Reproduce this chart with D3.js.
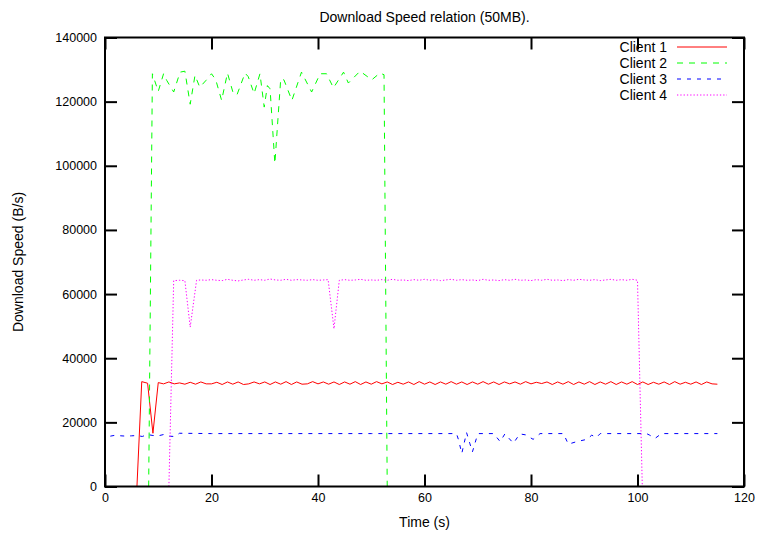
<!DOCTYPE html>
<html>
<head>
<meta charset="utf-8">
<script src="https://cdn.jsdelivr.net/npm/d3@7"></script>
<style>
  body { margin: 0; background: #fff; }
  text { font-family: "Liberation Sans", Arial, sans-serif; fill: #000; }
</style>
</head>
<body>
<svg id="chart" width="759" height="534"></svg>
<script>
// Axis ticks
const xTicks = [0, 20, 40, 60, 80, 100, 120];
const yTicks = [0, 20000, 40000, 60000, 80000, 100000, 120000, 140000];

const seriesNames = ["Client 1", "Client 2", "Client 3", "Client 4"];
const seriesColors = ["#ff0000", "#00ff00", "#0000ff", "#ff00ff"];
const seriesDash = [null, "6,6", "4,6", "1.3,2"];

// Client 1
const client1Time = [6, 6.9, 8, 9, 10,
  11, 12, 13, 14, 15, 16, 17, 18, 19, 20, 21, 22, 23, 24, 25, 26, 27, 28, 29, 30,
  31, 32, 33, 34, 35, 36, 37, 38, 39, 40, 41, 42, 43, 44, 45, 46, 47, 48, 49, 50,
  51, 52, 53, 54, 55, 56, 57, 58, 59, 60, 61, 62, 63, 64, 65, 66, 67, 68, 69, 70,
  71, 72, 73, 74, 75, 76, 77, 78, 79, 80, 81, 82, 83, 84, 85, 86, 87, 88, 89, 90,
  91, 92, 93, 94, 95, 96, 97, 98, 99, 100, 101, 102, 103, 104, 105, 106, 107, 108, 109, 110,
  111, 112, 113, 114, 115];
const client1Speed = [0, 32700, 32200, 16600, 32400,
  32000, 32600, 32000, 32300, 31900, 32500, 31900, 32600, 32000, 32000, 32500, 31800, 32600, 31900, 32600, 31800, 32000, 32600, 32000, 32600,
  31800, 32600, 31900, 32700, 31800, 32600, 31900, 32000, 32700, 32000, 32600, 31900, 32600, 31800, 32600, 31900, 32700, 31800, 32600, 31900,
  32700, 32000, 32600, 31800, 32500, 31900, 32600, 31800, 32700, 31900, 32600, 31800, 32600, 31900, 32700, 31900, 32600, 31800, 32600, 31900,
  32700, 31900, 32600, 31800, 32600, 32000, 32600, 31900, 32700, 32000, 32500, 32100, 32600, 31800, 32600, 31900, 32700, 31800, 32600, 31900,
  32700, 31800, 32600, 31900, 32700, 31800, 32600, 31900, 32700, 31800, 32600, 31800, 32500, 31900, 32600, 31800, 32700, 31900, 32500, 31900,
  32600, 31800, 32600, 32000, 31900];

// Client 2
const client2Time = [8.2, 8.9, 10.0, 11.0, 11.6, 12.9, 14.1, 15.0, 16.0, 16.9, 17.8, 18.9, 20.0,
  20.8, 21.9, 23.0, 24.1, 24.8, 26.3, 26.9, 28.0, 29.1, 29.9, 30.5, 31.0, 31.9, 33.0, 33.6,
  35.1, 36.9, 38.8, 40.4, 41.6, 42.9, 44.8, 45.7, 47.9, 50.1, 51.6, 52.4, 53.0];
const client2Speed = [0, 128700, 123200, 128700, 126600, 123000, 129200, 129500, 119200, 128200, 124500, 126500, 128700,
  126800, 120400, 128900, 122500, 122200, 128900, 127800, 122500, 128700, 118300, 125000, 124000, 100700, 127100, 126800,
  120400, 129200, 123000, 128700, 128700, 124300, 129200, 125800, 129500, 126800, 128900, 128400, 0];

// Client 3
const client3Time = [1, 2, 3, 4, 5, 6, 7, 8, 9, 10, 11, 12, 13, 14, 20, 30, 40, 50, 60, 66,
  66.4, 67.0, 67.9, 68.5, 69.0, 69.8, 70.1, 73, 74.2, 75.1, 76.7, 77.9, 79.0, 80.4, 81.7,
  86.1, 87.0, 88.6, 90.5, 91.4, 92.3, 93.0, 101.7, 102.3, 103.3, 104.5, 115];
const client3Speed = [15700, 16000, 15800, 15700, 15800, 15900, 15600, 16200, 15900, 15800, 16200, 15700, 15600, 16600, 16500, 16500, 16500, 16500, 16500, 16500,
  14500, 10300, 16800, 13500, 10800, 15300, 16500, 16500, 14000, 16400, 13500, 16400, 16100, 14700, 16500,
  16500, 13200, 14000, 14700, 16000, 15300, 16500, 16500, 16000, 15000, 16500, 16500];

// Client 4
const client4Time = [12.0, 12.9, 14, 15.0, 16.0, 17.2, 18, 19, 20, 21, 22, 23, 24, 25, 26, 27, 28, 29, 30,
  31, 32, 33, 34, 35, 36, 37, 38, 39, 40, 41, 41.9, 43.0, 44.0, 45, 46, 47, 48, 49, 50,
  51, 52, 53, 54, 55, 56, 57, 58, 59, 60, 61, 62, 63, 64, 65, 66, 67, 68, 69, 70,
  71, 72, 73, 74, 75, 76, 77, 78, 79, 80, 81, 82, 83, 84, 85, 86, 87, 88, 89, 90,
  91, 92, 93, 94, 95, 96, 97, 98, 99, 100, 100.9];
const client4Speed = [0, 64200, 64300, 64200, 49700, 64300, 64400, 64300, 64500, 64300, 64200, 64600, 64300, 64100, 64400, 64600, 64300, 64500, 64300,
  64700, 64400, 64300, 64600, 64300, 64500, 64400, 64300, 64500, 64300, 64400, 64500, 49200, 64300, 64500, 64300, 64400, 64600, 64300, 64400,
  64300, 64500, 64300, 64600, 64300, 64400, 64200, 64500, 64300, 64600, 64300, 64500, 64200, 64400, 64600, 64300, 64500, 64300, 64400, 64200,
  64600, 64300, 64400, 64200, 64500, 64300, 64600, 64300, 64400, 64200, 64500, 64300, 64600, 64300, 64400, 64200, 64500, 64300, 64600, 64400,
  64300, 64500, 64200, 64400, 64600, 64300, 64500, 64300, 64600, 64300, 0];

const seriesTimes = [client1Time, client2Time, client3Time, client4Time];
const seriesSpeeds = [client1Speed, client2Speed, client3Speed, client4Speed];

const svg = d3.select("#chart");
const W = 759, H = 534;
const m = { left: 105, right: 15, top: 37.5, bottom: 47.5 };

const x = d3.scaleLinear().domain([0, 120]).range([m.left, W - m.right]);
const y = d3.scaleLinear().domain([0, 140000]).range([H - m.bottom, m.top]);

const tickLen = 12;

// Data lines (drawn before the frame)
const line = d3.line().x(d => x(d[0])).y(d => y(d[1]));
seriesNames.forEach((name, i) => {
  const pts = seriesTimes[i].map((t, k) => [t, seriesSpeeds[i][k]]);
  svg.append("path")
    .datum(pts)
    .attr("d", line)
    .attr("fill", "none")
    .attr("stroke", seriesColors[i])
    .attr("stroke-width", 1)
    .attr("stroke-dasharray", seriesDash[i]);
});

// Axes with inward ticks, mirrored on top and right
const fontSize = 14;
const tickFont = 12.5;
svg.append("g")
  .attr("transform", `translate(0,${y(0)})`)
  .call(d3.axisBottom(x).tickValues(xTicks).tickFormat(d3.format("d")).tickSize(-tickLen).tickPadding(7));
svg.append("g")
  .attr("transform", `translate(${x(0)},0)`)
  .call(d3.axisLeft(y).tickValues(yTicks).tickFormat(d3.format("d")).tickSize(-tickLen).tickPadding(8));
svg.append("g")
  .attr("transform", `translate(0,${y(140000)})`)
  .call(d3.axisTop(x).tickValues(xTicks).tickFormat("").tickSize(-tickLen));
svg.append("g")
  .attr("transform", `translate(${x(120)},0)`)
  .call(d3.axisRight(y).tickValues(yTicks).tickFormat("").tickSize(-tickLen));

svg.selectAll(".domain").remove();
svg.selectAll(".tick line").attr("stroke", "#000").attr("stroke-width", 2);
svg.selectAll(".tick text").attr("font-size", tickFont).attr("font-family", '"Liberation Sans", Arial, sans-serif').attr("fill", "#000");

// Plot frame
svg.append("rect")
  .attr("x", x(0)).attr("y", y(140000))
  .attr("width", x(120) - x(0)).attr("height", y(0) - y(140000))
  .attr("fill", "none").attr("stroke", "#000").attr("stroke-width", 2);

// Titles
svg.append("text")
  .attr("x", (x(0) + x(120)) / 2).attr("y", 22)
  .attr("text-anchor", "middle").attr("font-size", fontSize)
  .text("Download Speed relation (50MB).");
svg.append("text")
  .attr("x", (x(0) + x(120)) / 2).attr("y", 527)
  .attr("text-anchor", "middle").attr("font-size", fontSize)
  .text("Time (s)");
svg.append("text")
  .attr("transform", `translate(23,${(y(0) + y(140000)) / 2}) rotate(-90)`)
  .attr("text-anchor", "middle").attr("font-size", fontSize)
  .text("Download Speed (B/s)");

// Legend
const legend = svg.append("g");
seriesNames.forEach((name, i) => {
  const cy = 47 + i * 16;
  legend.append("text")
    .attr("x", 667).attr("y", cy).attr("dy", "0.35em")
    .attr("text-anchor", "end").attr("font-size", fontSize)
    .text(name);
  legend.append("line")
    .attr("x1", 677).attr("x2", 727).attr("y1", cy).attr("y2", cy)
    .attr("stroke", seriesColors[i]).attr("stroke-width", 1)
    .attr("stroke-dasharray", seriesDash[i]);
});
</script>
</body>
</html>
